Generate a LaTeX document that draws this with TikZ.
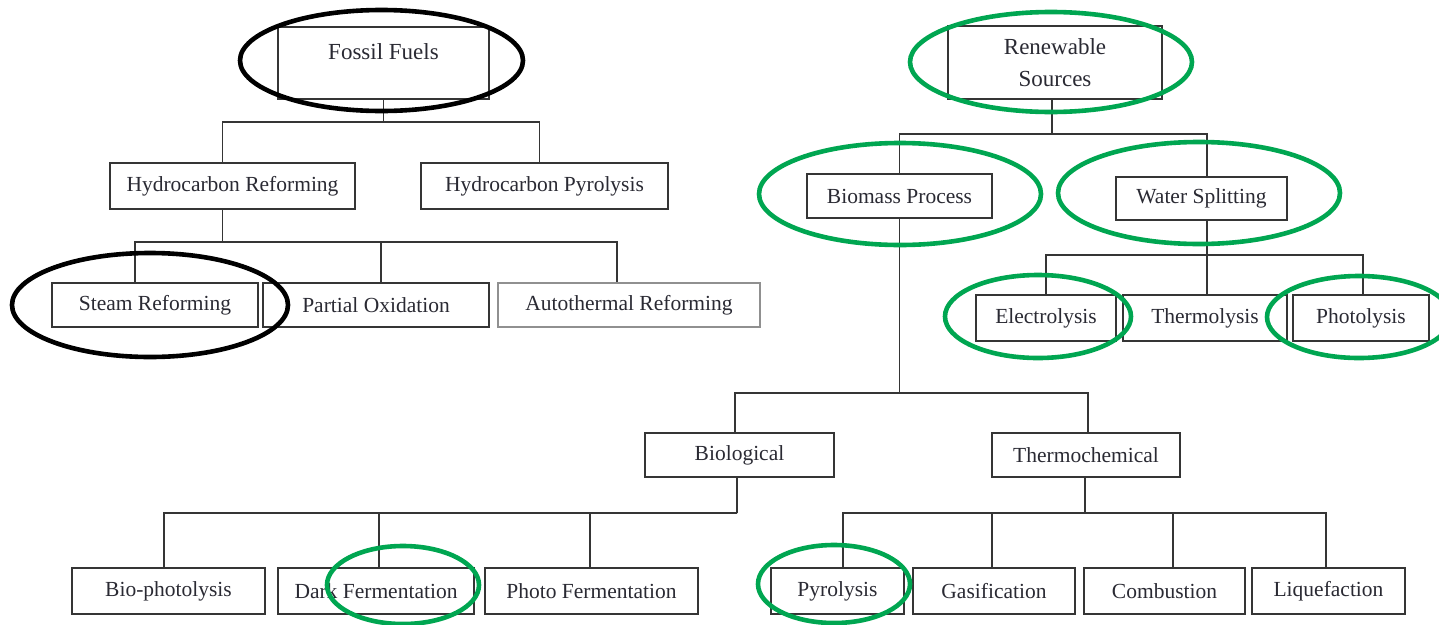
\documentclass[tikz,border=0pt]{standalone}
\usepackage{fontspec}
\setmainfont{Liberation Serif}
\usepackage{tikz}
\usetikzlibrary{positioning}
\definecolor{TreeInk}{HTML}{353535}
\definecolor{TreeText}{HTML}{2A2A33}
\definecolor{MarkGreen}{HTML}{00A651}
\begin{document}
\begin{tikzpicture}[x=1pt,y=-1pt,
  box/.style={draw=TreeInk,line width=1.6pt,text=TreeText,inner sep=0pt,minimum height=46pt,
    align=center,font=\fontsize{21.5}{26}\selectfont},
  link/.style={draw=TreeInk,line width=1.6pt},
  ring/.style={line width=4.6pt}]
\clip (0,0) rectangle (1439,624);
\fill[white] (0,0) rectangle (1439,624);
\node[box,minimum width=211pt,minimum height=72pt,font=\fontsize{23}{22}\selectfont] (fossil) at (383.5,63) {Fossil Fuels\\~};
\node[box,minimum width=214pt,minimum height=73pt,font=\fontsize{23}{32}\selectfont] (renew) at (1055,62.5) {Renewable\\Sources};
\node[box,minimum width=245pt] (hcref) at (232.5,186) {Hydrocarbon Reforming};
\node[box,minimum width=247pt] (hcpyr) at (544.5,186) {Hydrocarbon Pyrolysis};
\node[box,minimum width=206pt,minimum height=44pt] (steam) at (155,305) {Steam Reforming};
\node[box,minimum width=226pt,minimum height=44pt] (partox) at (376,305) {Partial Oxidation};
\node[box,minimum width=262pt,minimum height=44pt,draw=TreeInk!55] (autoth) at (629,305) {Autothermal Reforming};
\node[box,minimum width=185pt,minimum height=44pt] (biomass) at (899.5,196) {Biomass Process};
\node[box,minimum width=171pt,minimum height=43pt] (water) at (1201.5,198.5) {Water Splitting};
\node[box,minimum width=140pt] (electro) at (1046,318) {Electrolysis};
\node[box,minimum width=164pt] (thermo) at (1205,318) {Thermolysis};
\node[box,minimum width=136pt] (photo) at (1361,318) {Photolysis};
\node[box,minimum width=189pt,minimum height=44pt] (biolog) at (739.5,455) {Biological};
\node[box,minimum width=188pt,minimum height=44pt] (thermoch) at (1086,455) {Thermochemical};
\node[box,minimum width=193pt] (biophot) at (168.5,591) {Bio-photolysis};
\node[box,minimum width=196pt] (darkf) at (376,591) {Dark Fermentation};
\node[box,minimum width=213pt] (photof) at (591.5,591) {Photo Fermentation};
\node[box,minimum width=133pt] (pyro) at (837.5,591) {Pyrolysis};
\node[box,minimum width=162pt] (gasif) at (994,591) {Gasification};
\node[box,minimum width=161pt] (combust) at (1164.5,591) {Combustion};
\node[box,minimum width=153pt] (liquef) at (1328.5,591) {Liquefaction};

\draw[link] (fossil.south) -- ++(0,22) coordinate (fbus);
\draw[link] ([xshift=-10pt]hcref.north) |- (fbus) -| ([xshift=-5pt]hcpyr.north);
\draw[link] ([xshift=-10pt]hcref.south) -- ++(0,32) coordinate (hbus);
\draw[link] ([xshift=-20pt]steam.north) |- (hbus) -| ([xshift=-12pt]autoth.north);
\draw[link] ([xshift=5pt]partox.north) -- ([xshift=5pt]partox.north |- hbus);

\draw[link] ([xshift=-3pt]renew.south) -- ++(0,34) coordinate (rbus);
\draw[link] (biomass.north) |- (rbus) -| ([xshift=5.5pt]water.north);
\draw[link] ([xshift=5.5pt]water.south) -- ++(0,34) coordinate (wbus);
\draw[link] (electro.north) |- (wbus) -| ([xshift=2pt]photo.north);
\draw[link] (wbus) -- ([xshift=2pt]thermo.north);
\draw[link] (biomass.south) -- ++(0,174) coordinate (bbus);
\draw[link] ([xshift=-4.5pt]biolog.north) |- (bbus) -| ([xshift=2pt]thermoch.north);
\draw[link] ([xshift=-2.5pt]biolog.south) -- ++(0,35) coordinate (lbus);
\draw[link] ([xshift=-4.5pt]biophot.north) |- (lbus) -| ([xshift=-1.5pt]photof.north);
\draw[link] ([xshift=3pt]darkf.north) -- ([xshift=3pt]darkf.north |- lbus);
\draw[link] ([xshift=-1pt]thermoch.south) -- ++(0,35) coordinate (tbus);
\draw[link] ([xshift=5.5pt]pyro.north) |- (tbus) -| ([xshift=-2.5pt]liquef.north);
\draw[link] ([xshift=-2pt]gasif.north) -- ([xshift=-2pt]gasif.north |- tbus);
\draw[link] ([xshift=8.5pt]combust.north) -- ([xshift=8.5pt]combust.north |- tbus);

\draw[ring,black] (381.5,60.5) ellipse [x radius=141.5pt,y radius=50.5pt];
\draw[ring,black] (150,305) ellipse [x radius=138pt,y radius=52pt];
\draw[ring,MarkGreen] (1051,62) ellipse [x radius=141pt,y radius=50pt];
\draw[ring,MarkGreen] (900,194) ellipse [x radius=141pt,y radius=51pt];
\draw[ring,MarkGreen] (1199,193) ellipse [x radius=141pt,y radius=51pt];
\draw[ring,MarkGreen] (1038,316.5) ellipse [x radius=93pt,y radius=41.5pt];
\draw[ring,MarkGreen] (1359,317) ellipse [x radius=92pt,y radius=41pt];
\draw[ring,MarkGreen] (403,585) ellipse [x radius=76pt,y radius=39pt];
\draw[ring,MarkGreen] (834,584) ellipse [x radius=76pt,y radius=39pt];
\end{tikzpicture}
\end{document}
